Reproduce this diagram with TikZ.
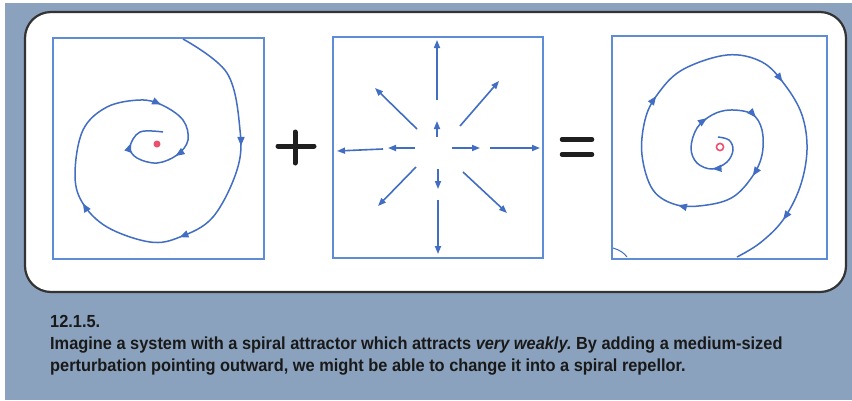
\documentclass[tikz,border=0pt]{standalone}
\usepackage{fontspec}
\setmainfont{Liberation Sans}
\newfontfamily\capfont{Liberation Sans}[FakeStretch=0.935]
\usetikzlibrary{arrows.meta,decorations.markings}
\definecolor{bgblue}{RGB}{138,162,190}
\definecolor{framblue}{RGB}{95,140,215}
\definecolor{lineblue}{RGB}{65,110,195}
\definecolor{dotred}{RGB}{235,80,110}
\definecolor{txt}{RGB}{25,25,25}
\frenchspacing
\tikzset{
  boxline/.style={draw=black!80, line width=2.2pt, fill=white, rounded corners=26pt},
  frame/.style={draw=framblue, line width=1.3pt, inner sep=0pt},
  spiral/.style={draw=lineblue, line width=1.5pt, postaction=decorate},
  ray/.style={draw=lineblue, line width=1.6pt, -{Triangle[length=8pt,width=6pt]}},
  opsign/.style={draw=black!88, line width=5pt, line cap=round},
  captext/.style={anchor=base west, inner sep=0pt, text=txt, font=\capfont\bfseries\fontsize{17.5}{20}\selectfont},
  >={Triangle[length=9pt,width=7pt]}
}
\begin{document}
\begin{tikzpicture}[x=1pt,y=-1pt]
\useasboundingbox (0,0) rectangle (852,400);
\fill[white] (0,0) rectangle (852,400);
\fill[bgblue] (5,3) rectangle (852,400);
\draw[boxline] (25,12) rectangle (846,292);

% panels
\node[frame, minimum width=211pt, minimum height=221pt] (L) at (158.5,148.5) {};
\node[frame, minimum width=210pt, minimum height=221pt] (M) at (438,147.5) {};
\node[frame, minimum width=215pt, minimum height=223pt] (R) at (719.5,147.5) {};

% left spiral (attractor)
\fill[dotred] (157,144) circle (3.5);
\draw[spiral, decoration={markings,
   mark=at position 0.19 with {\arrow{>}},
   mark=at position 0.36 with {\arrow{>}},
   mark=at position 0.52 with {\arrow{>}},
   mark=at position 0.76 with {\arrow{>}},
   mark=at position 0.86 with {\arrow{>}},
   mark=at position 0.945 with {\arrow{>}}}]
  plot[smooth, tension=0.6] coordinates {(183,39) (227,73) (240,130) (237,170) (213,217) (180,237) (150,242) (107,227) (82,202) (75,173) (83,130) (107,107) (140,100) (162,105) (183,120) (188,140) (177,155) (157,163) (137,158) (130,147) (140,132) (163,132)};

% plus
\draw[opsign] (278,146) -- (314,146);
\draw[opsign] (295,132) -- (295,163);

% middle: outward field
\draw[ray] (437,100) -- (437,40);
\draw[ray] (437,137) -- (437,121);
\draw[ray] (438,169) -- (438,189);
\draw[ray] (438,200) -- (438,254);
\draw[ray] (452,148) -- (480,148);
\draw[ray] (490,148) -- (540,148);
\draw[ray] (415,148) -- (388,148);
\draw[ray] (383,149) -- (337,151);
\draw[ray] (417,129) -- (375,88);
\draw[ray] (460,126) -- (499,81);
\draw[ray] (416,167) -- (378,206);
\draw[ray] (463,172) -- (507,213);

% equals
\draw[opsign, line width=4.5pt] (562,139.5) -- (592,139.5);
\draw[opsign, line width=4.5pt] (562,154.5) -- (592,154.5);

% right spiral (repellor)
\draw[dotred, line width=1.6pt] (720,147) circle (3.6);
\draw[spiral, decoration={markings,
   mark=at position 0.065 with {\arrow{>}},
   mark=at position 0.15 with {\arrow{>}},
   mark=at position 0.215 with {\arrow{>}},
   mark=at position 0.292 with {\arrow{>}},
   mark=at position 0.398 with {\arrow{>}},
   mark=at position 0.557 with {\arrow{>}},
   mark=at position 0.742 with {\arrow{>}},
   mark=at position 0.926 with {\arrow{>}}}]
  plot[smooth, tension=0.6] coordinates {(718,137) (729,140) (733,150) (727,162) (712,169) (697,163) (691,148) (697,128) (712,115) (730,110) (752,114) (762,130) (762,155) (752,177) (733,197) (707,205) (677,205) (653,190) (642,155) (645,120) (657,95) (682,70) (727,55) (762,62) (785,85) (802,115) (807,150) (800,187) (783,220) (760,243) (737,257)};
\draw[draw=lineblue, line width=1pt] (613,248) .. controls (620,250) and (624,253) .. (627,257);

% caption
\node[captext] (c1) at (50,327) {12.1.5.};
\node[captext] (c2) at (50,349) {Imagine a system with a spiral attractor which attracts \textit{very weakly.} By adding a medium-sized};
\node[captext] (c3) at (50,371) {perturbation pointing outward, we might be able to change it into a spiral repellor.};
\end{tikzpicture}
\end{document}
